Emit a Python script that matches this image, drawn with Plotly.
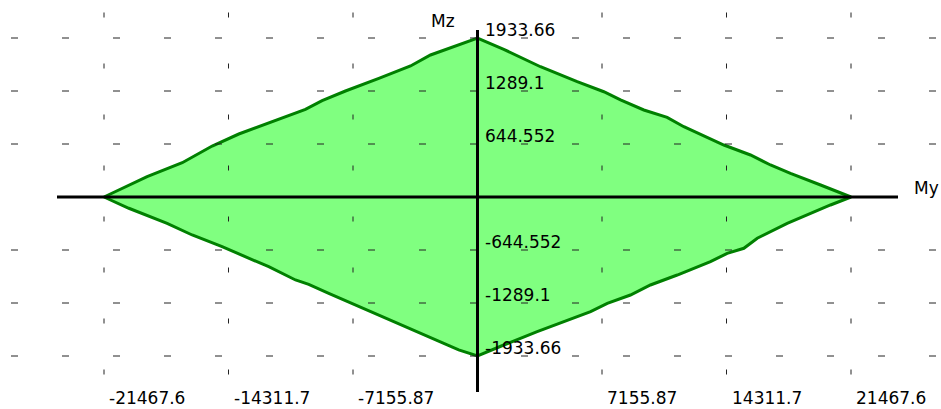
import plotly.graph_objects as go

# Interaction diagram My-Mz: boundary points per quadrant
ul_my = [-21467.6, -18990, -16970, -15250, -13720, -12000, -9890, -8930, -7590, -5670, -3850, -2700, -1650, 0]
ul_mz = [0, 247, 417, 620, 766, 904, 1066, 1171, 1289, 1443, 1593, 1727, 1808, 1933.66]

ur_my = [0, 1510, 3620, 5730, 7260, 8220, 9560, 10900, 11860, 14160, 15690, 16840, 17990, 19720, 21467.6]
ur_mz = [1933.66, 1796, 1584, 1402, 1280, 1180, 1058, 969, 855, 632, 511, 389, 288, 146, 0]

lr_my = [21467.6, 20290, 18950, 17800, 16080, 15310, 14350, 13390, 11480, 9940, 8790, 7460, 6500, 4960, 3430, 1510, 0]
lr_mz = [0, -97, -219, -320, -502, -624, -685, -787, -949, -1070, -1192, -1293, -1395, -1516, -1638, -1800, -1933.66]

ll_my = [0, -1080, -2410, -3950, -5480, -7010, -8550, -9700, -10460, -12000, -13340, -14680, -16400, -17840, -20040, -21467.6]
ll_mz = [-1933.66, -1860, -1739, -1597, -1456, -1313, -1171, -1062, -1009, -848, -726, -604, -462, -320, -137, 0]

my_ticks = [-21467.6, -14311.7, -7155.87, 7155.87, 14311.7, 21467.6]
my_labels = ["-21467.6", "-14311.7", "-7155.87", "7155.87", "14311.7", "21467.6"]
mz_ticks = [1933.66, 1289.1, 644.552, -644.552, -1289.1, -1933.66]
mz_labels = ["1933.66", "1289.1", "644.552", "-644.552", "-1289.1", "-1933.66"]

W, H = 941, 409
FONT = dict(family="DejaVu Sans", size=17, color="black")

# Scale: outermost ticks pinned to pixel positions
my_max, mz_max = max(my_ticks), max(mz_ticks)
sx = 2 * my_max / (851 - 104)
sy = 2 * mz_max / (356 - 38)
x_lo = -my_max - 104 * sx
x_hi = x_lo + W * sx
y_hi = mz_max + 38 * sy
y_lo = y_hi - H * sy


def px_x(p):
    return x_lo + p * sx


def px_y(p):
    return y_hi - p * sy


poly_x = ul_my + ur_my[1:] + lr_my[1:] + ll_my[1:]
poly_y = ul_mz + ur_mz[1:] + lr_mz[1:] + ll_mz[1:]

fig = go.Figure()
fig.add_trace(go.Scatter(
    x=poly_x, y=poly_y, mode="lines", fill="toself",
    fillcolor="#80FF80", line=dict(color="#008000", width=3),
    hoverinfo="skip", showlegend=False,
))

shapes = []
# dashed grid at tick positions
for t in my_ticks:
    shapes.append(dict(type="line", layer="above", x0=t, x1=t, y0=px_y(12.5), y1=px_y(374.5),
                       line=dict(color="#222222", width=1, dash="5px,46px")))
for t in mz_ticks:
    shapes.append(dict(type="line", layer="above", x0=px_x(11), x1=px_x(W), y0=t, y1=t,
                       line=dict(color="#222222", width=1, dash="7px,44px")))
# My and Mz axes
shapes.append(dict(type="line", layer="above", x0=px_x(57), x1=px_x(898), y0=0, y1=0,
                   line=dict(color="black", width=3)))
shapes.append(dict(type="line", layer="above", x0=0, x1=0, y0=px_y(30), y1=px_y(392),
                   line=dict(color="black", width=3)))

annotations = []
for t, lab in zip(my_ticks, my_labels):
    annotations.append(dict(x=t, y=-mz_max, text=lab, showarrow=False, xanchor="left",
                            yanchor="middle", xshift=4, yshift=-42, borderpad=0, font=FONT))
for t, lab in zip(mz_ticks, mz_labels):
    annotations.append(dict(x=0, y=t, text=lab, showarrow=False, xanchor="left",
                            yanchor="middle", xshift=5, yshift=8, font=FONT))
annotations.append(dict(x=0, y=mz_max, text="Mz", showarrow=False, xanchor="center",
                        yanchor="middle", xshift=-35, yshift=17, font=FONT))
annotations.append(dict(x=my_max, y=0, text="My", showarrow=False, xanchor="left",
                        yanchor="middle", xshift=61, yshift=9, font=FONT))

fig.update_layout(
    width=W, height=H, margin=dict(l=0, r=0, t=0, b=0),
    paper_bgcolor="white", plot_bgcolor="white",
    xaxis=dict(range=[x_lo, x_hi], visible=False, fixedrange=True),
    yaxis=dict(range=[y_lo, y_hi], visible=False, fixedrange=True),
    shapes=shapes, annotations=annotations, showlegend=False,
)

fig.write_html("out.html", config={"displayModeBar": False})
